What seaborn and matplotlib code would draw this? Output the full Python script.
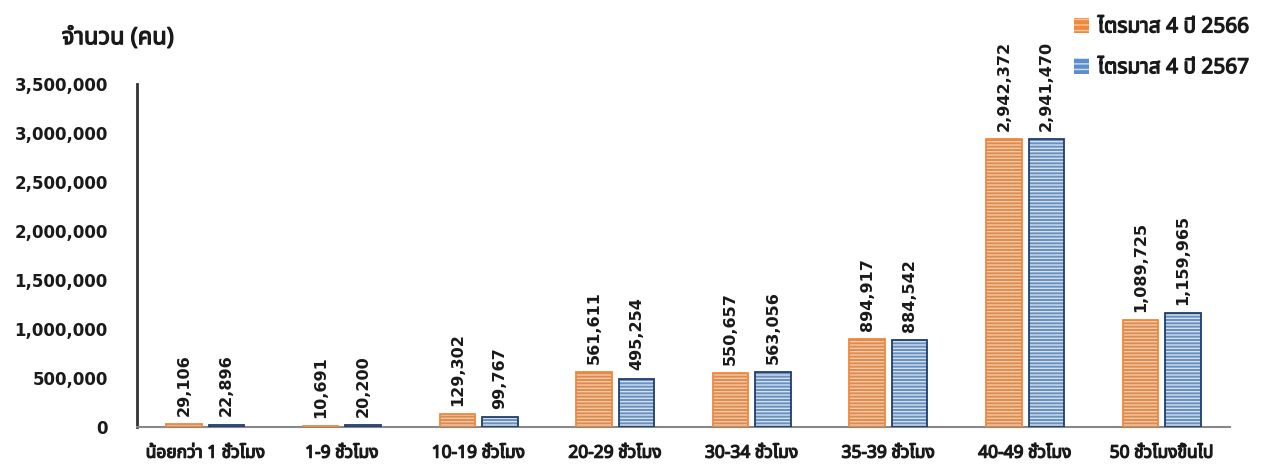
import pandas as pd
import matplotlib.pyplot as plt
import matplotlib.patheffects as pe
import seaborn as sns
from matplotlib.patches import Rectangle, Patch

# Data
categories = ['น้อยกว่า 1 ชั่วโมง', '1-9 ชั่วโมง', '10-19 ชั่วโมง', '20-29 ชั่วโมง',
              '30-34 ชั่วโมง', '35-39 ชั่วโมง', '40-49 ชั่วโมง', '50 ชั่วโมงขึ้นไป']
q4_2566 = [29106, 10691, 129302, 561611, 550657, 894917, 2942372, 1089725]
q4_2567 = [22896, 20200, 99767, 495254, 563056, 884542, 2941470, 1159965]
series_names = ['ไตรมาส 4 ปี 2566', 'ไตรมาส 4 ปี 2567']
y_ticks = [0, 500000, 1000000, 1500000, 2000000, 2500000, 3000000, 3500000]

df = pd.DataFrame({
    'cat': categories * 2,
    'value': q4_2566 + q4_2567,
    'series': [series_names[0]] * len(categories) + [series_names[1]] * len(categories),
})

sns.set_style("white")
plt.rcParams['font.family'] = ['DejaVu Sans']
plt.rcParams['hatch.linewidth'] = 1.0
thai = ['Noto Sans Thai', 'Noto Sans']

txt = '#1a1a1a'
thick = [pe.withStroke(linewidth=0.9, foreground=txt)]

face = {series_names[0]: '#F0883C', series_names[1]: '#5B8ECB'}
stripe = {series_names[0]: '#F9C8A0', series_names[1]: '#D2E0F2'}
edge = {series_names[0]: '#F0883C', series_names[1]: '#1F3E6C'}

fig = plt.figure(figsize=(12.62, 4.65), dpi=100)
ax = fig.add_axes([0.1086, 0.0817, 0.866, 0.737])

sns.barplot(data=df, x='cat', y='value', hue='series', palette=face,
            width=0.622, gap=0.165, ax=ax, legend=False)

# stripes + outline on each bar
for cont, name in zip(ax.containers, series_names):
    for p in cont:
        p.set_hatch('-----')
        p.set_edgecolor(stripe[name])
        p.set_linewidth(0)
        ax.add_patch(Rectangle((p.get_x(), p.get_y()), p.get_width(), p.get_height(),
                               fill=False, edgecolor=edge[name], linewidth=1.3, zorder=3))
    ax.bar_label(cont, labels=[f'{v:,.0f}' for v in cont.datavalues], rotation=90,
                 padding=6, fontsize=11.5, fontweight='bold', color=txt)

ax.set_ylim(0, 3500000)
ax.set_yticks(y_ticks)
ax.set_yticklabels([f'{v:,}' for v in y_ticks])
ax.tick_params(axis='y', length=0, pad=21, labelsize=12)
ax.tick_params(axis='x', length=0, pad=12, labelsize=12.5)
for lab in ax.get_yticklabels():
    lab.set_fontweight('bold')
    lab.set_color(txt)
for lab in ax.get_xticklabels():
    lab.set_family(thai)
    lab.set_color(txt)
    lab.set_path_effects(thick)
ax.set_xlabel('')
ax.set_ylabel('')

sns.despine(ax=ax)
ax.spines['left'].set_color('#333333')
ax.spines['left'].set_linewidth(2)
ax.spines['bottom'].set_color('#888888')
ax.spines['bottom'].set_linewidth(1.5)

fig.text(0.049, 0.905, 'จำนวน (คน)', fontsize=17, family=thai, color=txt,
         path_effects=thick)

handles = [Patch(facecolor=face[n], edgecolor=stripe[n], hatch='---', linewidth=0)
           for n in series_names]
leg = fig.legend(handles, series_names, loc='upper left', bbox_to_anchor=(0.836, 1.005),
                 frameon=False, prop={'family': thai, 'size': 15}, labelspacing=0.95,
                 handlelength=0.75, handleheight=0.75, handletextpad=0.4)
for t in leg.get_texts():
    t.set_color(txt)
    t.set_path_effects(thick)

plt.savefig('out.png', dpi=100)
